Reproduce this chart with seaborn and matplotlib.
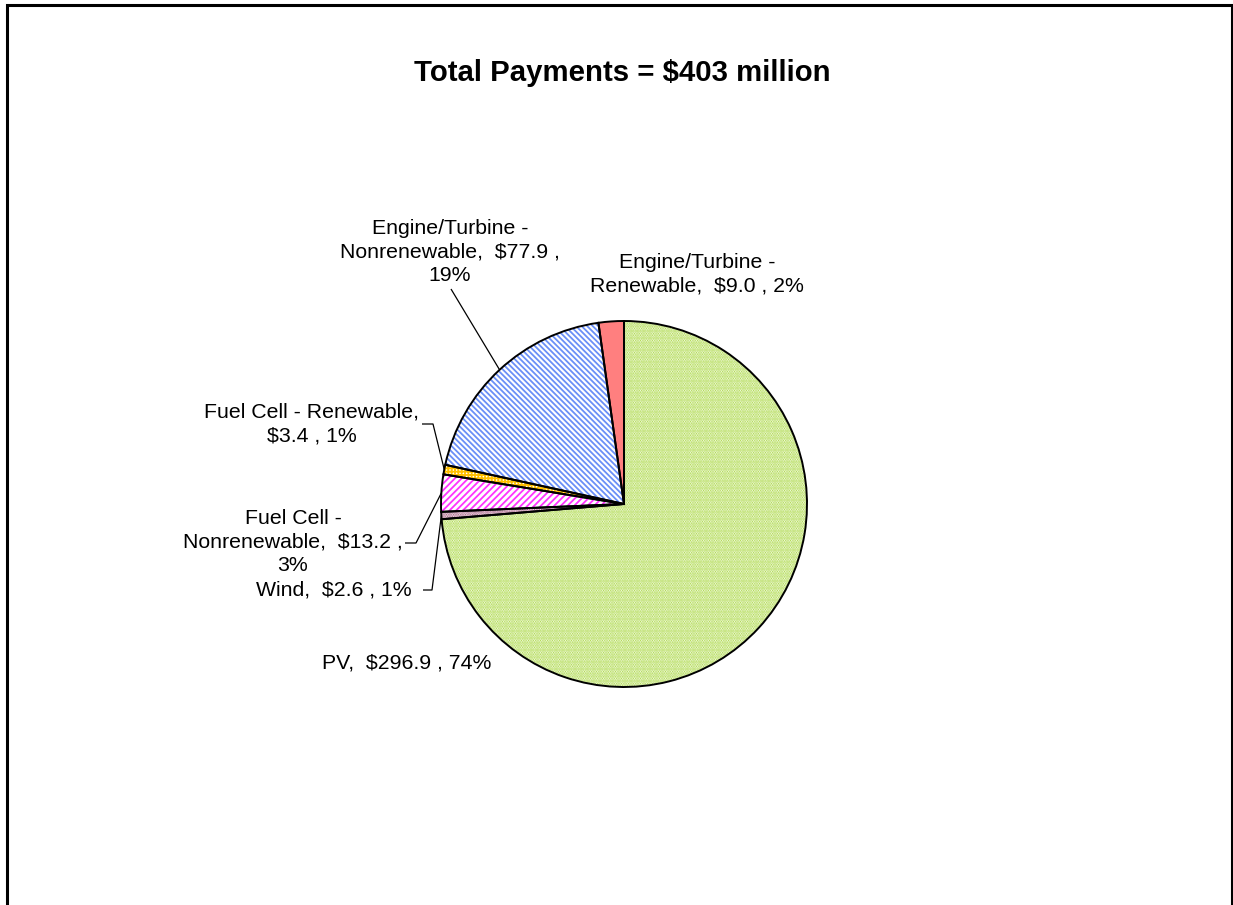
import matplotlib
matplotlib.use("Agg")
import matplotlib.pyplot as plt
from matplotlib.patches import Rectangle
import numpy as np
import seaborn as sns

# Payments by technology, $ million (clockwise from 12 o'clock)
categories = ["PV", "Wind", "Fuel Cell -\nNonrenewable", "Fuel Cell - Renewable",
              "Engine/Turbine -\nNonrenewable", "Engine/Turbine -\nRenewable"]
payments = [296.9, 2.6, 13.2, 3.4, 77.9, 9.0]
title_text = "Total Payments = $403 million"

# line breaks inside each label: before the value, before the percentage
break_before_value = [False, False, False, True, False, False]
break_before_pct = [False, False, True, False, True, False]

# wedge fills: (face, hatch colour, hatch)
fills = [
    ("white", "#A6D63A", "." * 7),
    ("white", "#A0527A", "." * 7),
    ("white", "#FF33FF", "/" * 5),
    ("white", "#FFC000", "+" * 5),
    ("white", "#6A8FF7", "\\" * 6),
    ("#FF7F7F", "#FF7F7F", None),
]

# label anchor (pixel centre) and leader start points (pixels, y down)
label_pos = [(407, 663), (334, 590), (293, 542), (312, 424), (450, 252), (697, 274)]
leaders = [None, [(423, 590), (432, 590)], [(405, 543), (416, 543)],
           [(422, 424), (433, 424)], [(451, 289)], None]

W, H = 1233, 905
sns.set_theme(style="white")
plt.rcParams["font.family"] = ["Liberation Sans", "DejaVu Sans"]
plt.rcParams["hatch.linewidth"] = 1.3

fig = plt.figure(figsize=(W / 100, H / 100), dpi=100)
fig.patch.set_facecolor("white")
ax = fig.add_axes([0, 0, 1, 1])

cx, cy, R = 624, 504, 183
center = (cx, H - cy)

# hatched fills
wedges, _ = ax.pie(payments, startangle=90, counterclock=False, center=center,
                   radius=R, frame=True)
for w, (fc, hc, hatch) in zip(wedges, fills):
    w.set_facecolor(fc)
    w.set_edgecolor(hc)
    w.set_linewidth(0)
    if hatch:
        w.set_hatch(hatch)

# black outlines on top
outline, _ = ax.pie(payments, startangle=90, counterclock=False, center=center,
                    radius=R, frame=True,
                    wedgeprops=dict(facecolor="none", edgecolor="black", linewidth=1.4))

total = sum(payments)
for i, (name, val) in enumerate(zip(categories, payments)):
    pct = int(round(val / total * 100))
    sep1 = "\n" if break_before_value[i] else "  "
    sep2 = "\n" if break_before_pct[i] else " "
    text = f"{name},{sep1}${val:.1f} ,{sep2}{pct}%"
    x, y = label_pos[i]
    ax.text(x, H - y, text, ha="center", va="center", fontsize=15.3,
            linespacing=1.32, color="black", multialignment="center")
    if leaders[i] is not None:
        w = outline[i]
        mid = np.deg2rad((w.theta1 + w.theta2) / 2)
        ex, ey = cx + R * np.cos(mid), (H - cy) + R * np.sin(mid)
        pts = [(px, H - py) for px, py in leaders[i]] + [(ex, ey)]
        xs, ys = zip(*pts)
        ax.plot(xs, ys, color="black", linewidth=0.9, solid_capstyle="butt")

ax.text(622, H - 73, title_text, ha="center", va="center", fontsize=21.2,
        fontweight="bold", color="black")

ax.set_xlim(0, W)
ax.set_ylim(0, H)
ax.set_aspect("equal")
ax.axis("off")

# chart-area border
fig.add_artist(Rectangle((6.5 / W, -0.05), (1232 - 6.5) / W, (H - 5.5) / H + 0.05,
                         transform=fig.transFigure, fill=False, edgecolor="black",
                         linewidth=2.2, clip_on=False))

fig.savefig("out.png", dpi=100, facecolor="white")
